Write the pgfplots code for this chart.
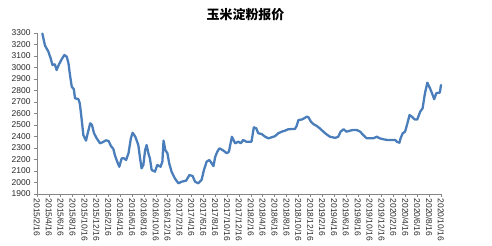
\documentclass[border=0pt]{standalone}
\usepackage{fontspec}
\setmainfont{Liberation Sans}
\newfontfamily\cjk{Noto Sans CJK SC}
\usepackage{pgfplots}
\pgfplotsset{compat=1.18}
\definecolor{linec}{RGB}{74,126,187}
\definecolor{axc}{RGB}{134,134,134}
\definecolor{txtc}{RGB}{40,40,40}
\pgfplotstableread{
m v
0.9 3295
1.35 3190
1.9 3140
2.3 3080
2.6 3022
3.0 3028
3.3 2978
3.65 3022
4.15 3071
4.6 3109
5.0 3094
5.3 3036
5.55 2935
5.85 2833
6.2 2811
6.4 2732
6.95 2726
7.2 2689
7.5 2558
7.8 2413
8.25 2364
8.6 2442
8.95 2515
9.25 2500
9.6 2428
10.05 2384
10.6 2341
11.05 2350
11.6 2367
12.05 2361
12.45 2317
12.85 2291
13.1 2239
13.5 2181
13.85 2137
14.25 2210
14.65 2210
15.0 2196
15.4 2254
15.8 2384
16.1 2433
16.55 2398
17.05 2326
17.35 2210
17.6 2123
17.9 2152
18.2 2282
18.45 2326
18.75 2254
19.0 2210
19.3 2109
19.85 2094
20.25 2152
20.8 2137
21.1 2181
21.3 2364
21.6 2282
21.95 2254
22.25 2167
22.65 2094
23.2 2036
23.8 1993
24.35 2007
25.1 2016
25.65 2065
26.2 2056
26.6 2007
27.15 1993
27.7 2022
28.1 2109
28.55 2181
29.0 2196
29.4 2167
29.7 2143
30.0 2224
30.35 2268
30.7 2297
31.25 2282
31.95 2254
32.3 2268
32.8 2398
33.35 2341
33.9 2355
34.3 2341
34.7 2370
35.2 2355
35.6 2355
36.1 2355
36.5 2480
36.9 2471
37.25 2428
37.8 2422
38.4 2398
38.95 2384
39.5 2393
40.1 2404
40.6 2428
41.2 2442
41.75 2451
42.3 2463
42.9 2465
43.4 2465
43.7 2491
44.0 2543
44.6 2548
44.95 2558
45.4 2572
45.7 2567
46.1 2529
46.5 2509
47.1 2491
47.6 2471
48.2 2442
48.65 2422
49.3 2398
50.2 2388
50.7 2398
51.1 2442
51.6 2463
52.1 2442
52.7 2451
53.25 2457
53.8 2457
54.4 2442
54.9 2413
55.5 2384
56.05 2384
56.6 2384
57.2 2398
57.7 2384
58.3 2376
58.9 2370
59.7 2370
60.3 2370
60.55 2355
61.0 2346
61.2 2384
61.55 2428
61.95 2442
62.35 2515
62.7 2587
63.1 2572
63.6 2548
64.0 2548
64.5 2616
64.9 2645
65.3 2776
65.7 2868
66.15 2819
66.6 2761
66.85 2724
67.2 2776
67.55 2781
67.8 2781
68.0 2848
}\price
\begin{document}
\begin{tikzpicture}
\useasboundingbox (0,0) rectangle (492bp,246bp);
\node[font=\cjk\bfseries\fontsize{13}{14}\selectfont, text=black] at (245.5bp,231bp) {玉米淀粉报价};
\begin{axis}[
  at={(37bp,52bp)}, anchor=south west,
  scale only axis, width=404bp, height=161bp,
  xmin=0, xmax=68, ymin=1900, ymax=3300,
  axis x line*=bottom, axis y line*=left,
  axis line style={draw=axc, line width=0.6pt, -},
  tick align=outside, major tick length=3bp,
  every tick/.style={draw=axc, line width=0.6pt},
  ytick={1900,2000,...,3300},
  xtick={0,2,...,68},
  xticklabels={2015/2/16,2015/4/16,2015/6/16,2015/8/16,2015/10/16,2015/12/16,
    2016/2/16,2016/4/16,2016/6/16,2016/8/16,2016/10/16,2016/12/16,
    2017/2/16,2017/4/16,2017/6/16,2017/8/16,2017/10/16,2017/12/16,
    2018/2/16,2018/4/16,2018/6/16,2018/8/16,2018/10/16,2018/12/16,
    2019/2/16,2019/4/16,2019/6/16,2019/8/16,2019/10/16,2019/12/16,
    2020/2/16,2020/4/16,2020/6/16,2020/8/16,2020/10/16},
  xticklabel style={rotate=-90, anchor=west, font=\fontsize{8.5}{9}\selectfont, text=txtc, inner sep=1.5bp},
  yticklabel style={font=\fontsize{8.5}{9}\selectfont, text=txtc, /pgf/number format/.cd, 1000 sep={}},
  /pgf/number format/assume math mode=true,
  clip=false,
]
\addplot[linec, line width=2.3pt, line join=round, line cap=round, mark=none] table[x=m, y=v] {\price};
\end{axis}
\end{tikzpicture}
\end{document}
